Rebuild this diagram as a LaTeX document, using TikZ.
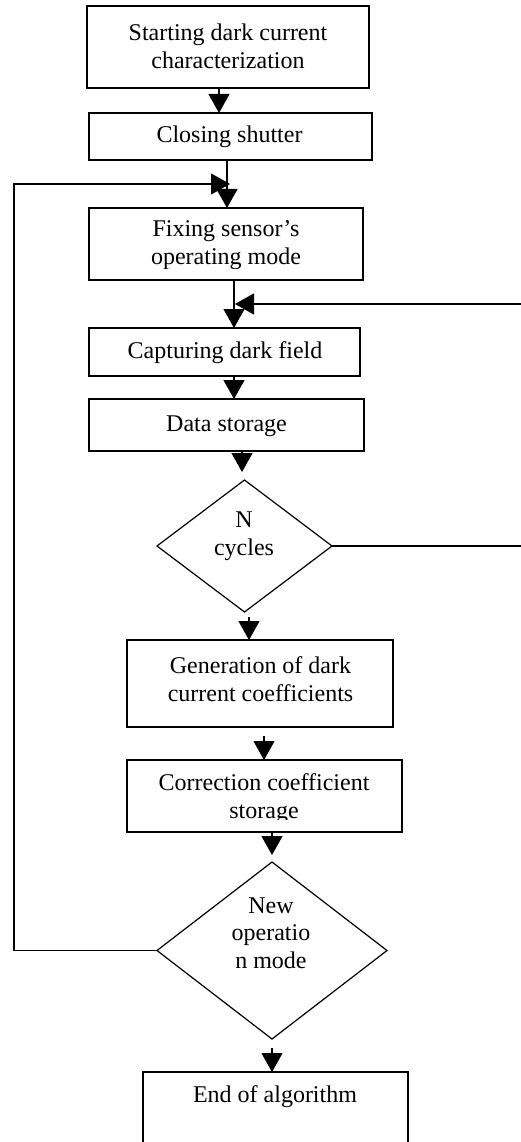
\documentclass[tikz,border=0pt]{standalone}
\usepackage{fontspec}
\setmainfont{Liberation Serif}
\usetikzlibrary{arrows.meta,shapes.geometric}
\begin{document}
\begin{tikzpicture}[x=1pt,y=-1pt, line width=1.2pt,
  box/.style={draw, rectangle, inner sep=0pt, outer sep=0pt},
  dia/.style={draw, diamond, aspect=1, inner sep=0pt, outer sep=0pt},
  lbl/.style={align=center, font=\fontsize{24}{27.6}\selectfont, inner sep=0pt},
  arr/.style={-{Triangle[width=21pt,length=19pt]}},
]
\clip (0,0) rectangle (521,1142);
% boxes
\node[box, minimum width=282pt, minimum height=82pt] (b1) at (228,47) {};
\node[box, minimum width=283pt, minimum height=47pt] (cs) at (230.5,136.5) {};
\node[box, minimum width=274pt, minimum height=72pt] (fx) at (226,244) {};
\node[box, minimum width=271pt, minimum height=48pt] (cp) at (224.5,352) {};
\node[box, minimum width=275pt, minimum height=52pt] (da) at (226.5,425) {};
\node[dia, minimum width=175pt, minimum height=132pt] (nc) at (244.5,546) {};
\node[box, minimum width=266pt, minimum height=87pt] (gen) at (260,683.5) {};
\node[box, minimum width=275pt, minimum height=72pt] (co) at (264.5,796) {};
\node[dia, minimum width=230pt, minimum height=177pt] (no) at (272,950.5) {};
\node[box, minimum width=265pt, minimum height=88pt] (en) at (275.5,1116) {};
% labels
\node[lbl] (t1) at (228,46) {Starting dark current\\characterization};
\node[lbl] (t2) at (229.5,137) {Closing shutter};
\begin{scope}
\clip (80,200) rectangle (380,268);
\node[lbl] (t3) at (226,245) {Fixing sensor’s\\operating mode};
\end{scope}
\node[lbl] (t4) at (225,353) {Capturing dark field};
\node[lbl] (t5) at (226.5,426) {Data storage};
\node[lbl] (t6) at (244,536) {N\\cycles};
\node[lbl] (t7) at (260.5,679) {Generation of dark\\current coefficients};
\begin{scope}
\clip (100,750) rectangle (420,819);
\node[lbl] (t8) at (264,798.5) {Correction coefficient\\storage};
\end{scope}
\node[lbl] (t9) at (271,933) {New\\operatio\\n mode};
\node[lbl] (t10) at (275,1097) {End of algorithm};
% connectors
\draw[arr] (219,0 |- b1.south) -- (219,0 |- cs.north);
\draw[arr] (227,0 |- cs.south) -- (227,0 |- fx.north);
\draw[arr] (234,0 |- fx.south) -- (234,0 |- cp.north);
\draw[arr] (234,0 |- cp.south) -- (234,0 |- da.north);
\draw[arr, shorten >=8pt] (242,0 |- da.south) -- (242,0 |- nc.north);
\draw[arr, shorten <=5pt] (249,0 |- nc.south) -- (249,0 |- gen.north);
\draw[arr, shorten <=9pt] (264,0 |- gen.south) -- (264,0 |- co.north);
\draw[arr, shorten >=7pt] (272,0 |- co.south) -- (272,0 |- no.north);
\draw[arr, shorten <=9pt] (272,0 |- no.south) -- (272,0 |- en.north);
% loops
\coordinate (lj) at (230,184);
\coordinate (rj) at (235,304);
\draw[arr] (no.west) -- (14,0 |- no.west) -- (14,0 |- lj) -- (lj);
\draw[arr] (nc.east) -- (530,0 |- nc.east) -- (530,0 |- rj) -- (rj);
\end{tikzpicture}
\end{document}
